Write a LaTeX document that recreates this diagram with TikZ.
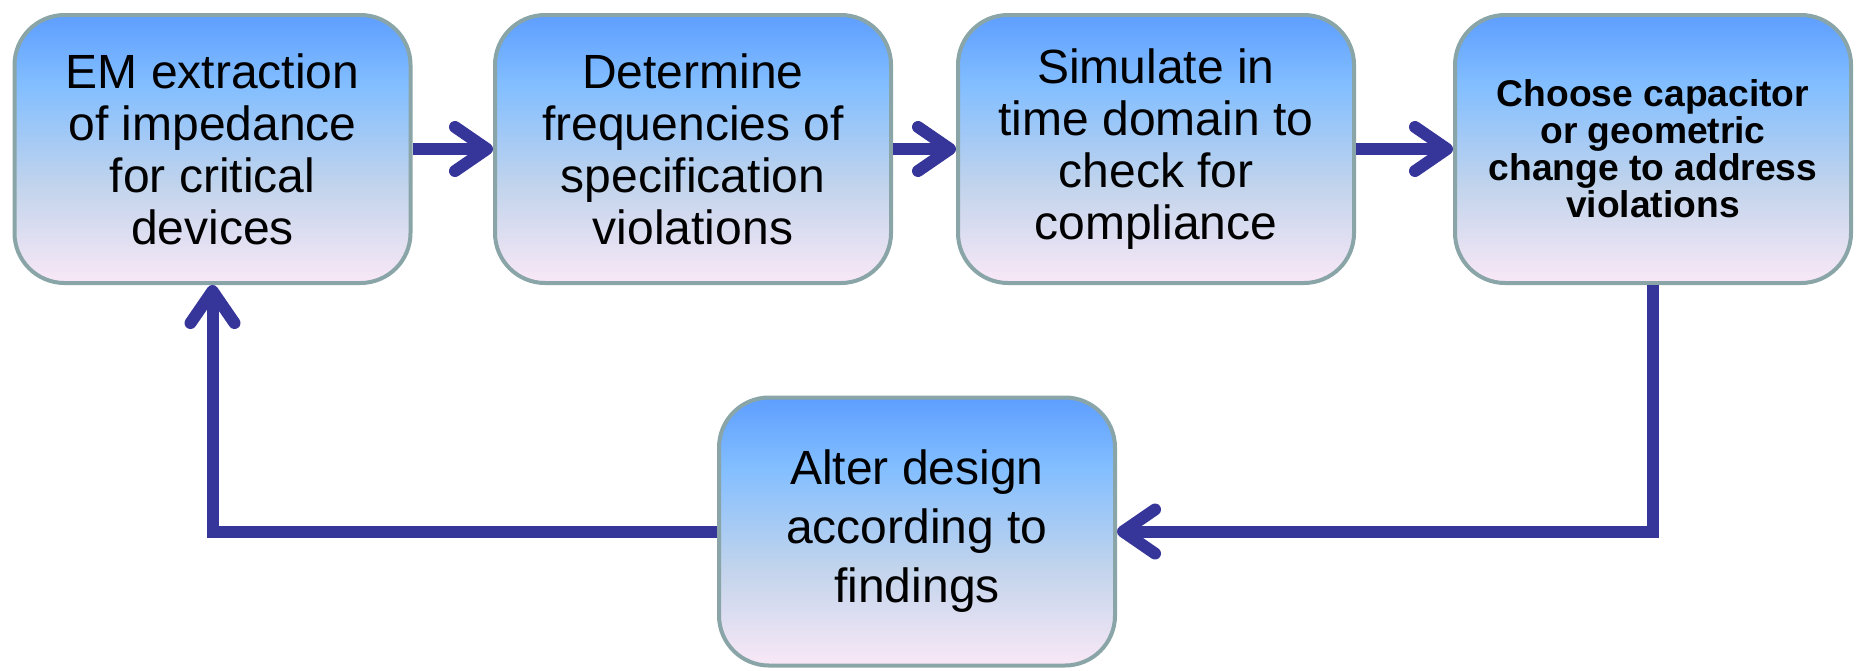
\documentclass[tikz,border=0pt]{standalone}
\usepackage{fontspec}
\setmainfont{Liberation Sans}
\usetikzlibrary{arrows.meta}
\definecolor{boxtop}{HTML}{5E9EFF}
\definecolor{boxmid}{HTML}{82BEFF}
\definecolor{boxgrey}{HTML}{C2D4EC}
\definecolor{boxbot}{HTML}{F9E8F6}
\definecolor{boxline}{HTML}{8AA5A7}
\definecolor{flowblue}{HTML}{35359A}
\pgfdeclareverticalshading{boxshade}{100bp}{
  color(0bp)=(boxbot); color(25bp)=(boxbot); color(43bp)=(boxgrey);
  color(62bp)=(boxmid); color(75bp)=(boxtop); color(100bp)=(boxtop)}
\tikzset{
  stepbox/.style = {draw=boxline, line width=2pt, rounded corners=25pt,
                    shading=boxshade,
                    minimum width=198pt, minimum height=134pt,
                    align=center, inner sep=0pt,
                    font=\fontsize{24}{26}\selectfont},
  flow/.style    = {draw=flowblue, line width=6pt,
                    -{Straight Barb[length=16pt, width=22pt, round]}}
}

\begin{document}
\begin{tikzpicture}[x=0.5pt, y=-0.5pt]
	\useasboundingbox (0,0) rectangle (1862,670);
	\node[stepbox] (em)  at (212.5,149) {EM extraction\\of impedance\\for critical\\devices};
	\node[stepbox] (det) at (693,149)   {Determine\\frequencies of\\specification\\violations};
	\node[stepbox] (sim) at (1156,149)  {Simulate in\\time domain to\\check for\\compliance};
	\node[stepbox, font=\fontsize{18.6}{18.5}\selectfont\bfseries] (cho) at (1653,149)
	     {Choose capacitor\\or geometric\\change to address\\violations};
	\node[stepbox, font=\fontsize{24}{29.5}\selectfont] (alt) at (917,531.5)
	     {Alter design\\according to\\findings};
	% connectors
	\draw[flow] (em)  -- (det);
	\draw[flow] (det) -- (sim);
	\draw[flow] (sim) -- (cho);
	\draw[flow] (cho.south) |- (alt.east);
	\draw[flow] (alt.west) -| (em.south);
\end{tikzpicture}
\end{document}
